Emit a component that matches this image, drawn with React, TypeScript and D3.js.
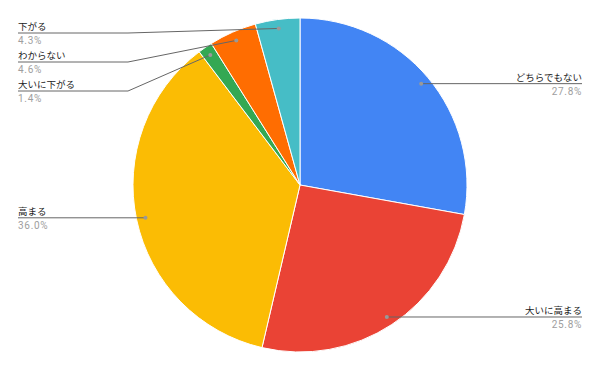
import React from "react";
import * as d3 from "d3";

const categories = ["どちらでもない", "大いに高まる", "高まる", "大いに下がる", "わからない", "下がる"];
const values = [27.8, 25.8, 36.0, 1.4, 4.6, 4.3];
const colors = ["#4285F4", "#EA4335", "#FBBC04", "#34A853", "#FF6D01", "#46BDC6"];

const W = 600;
const H = 371;
const CX = 300;
const CY = 185;
const R = 167;
const FONT = "Roboto, 'Noto Sans CJK JP', sans-serif";

export default function App() {
  const pie = d3.pie<number>().sort(null).value((d) => d)(values);
  const arc = d3.arc<d3.PieArcDatum<number>>().innerRadius(0).outerRadius(R);
  const dotArc = d3.arc<d3.PieArcDatum<number>>().innerRadius(R * 0.946).outerRadius(R * 0.946);

  const items = pie.map((p, i) => {
    const mid = (p.startAngle + p.endAngle) / 2;
    const [dx, dy] = dotArc.centroid(p);
    return { i, mid, x: CX + dx, y: CY + dy, left: Math.sin(mid) < 0 };
  });

  const lineY: Record<number, number> = {};
  (["left", "right"] as const).forEach((side) => {
    const list = items.filter((d) => (side === "left" ? d.left : !d.left)).sort((a, b) => a.y - b.y);
    let prev = -Infinity;
    list.forEach((d) => {
      const y = Math.max(d.y, prev + 29, 33);
      lineY[d.i] = y;
      prev = y;
    });
  });

  return (
    <svg width={W} height={H} style={{ position: "absolute", left: 0, top: 0, fontFamily: FONT }}>
      <rect width={W} height={H} fill="#fff" />
      <g transform={`translate(${CX},${CY})`}>
        {pie.map((p, i) => (
          <path key={i} d={arc(p) || ""} fill={colors[i]} stroke="#fff" strokeWidth={1} />
        ))}
      </g>
      {items.map((d) => {
        const ly = lineY[d.i];
        const endX = d.left ? 18 : 582;
        const elbowX = d.left ? 128 : 472;
        const pts =
          Math.abs(ly - d.y) < 0.5
            ? `${d.x},${d.y} ${endX},${ly}`
            : `${d.x},${d.y} ${elbowX},${ly} ${endX},${ly}`;
        const anchor = d.left ? "start" : "end";
        return (
          <g key={d.i}>
            <polyline points={pts} fill="none" stroke="#666" strokeWidth={1} />
            <circle cx={d.x} cy={d.y} r={2} fill="#999" />
            <text x={endX} y={ly - 3} fontSize={9.5} fill="#222" textAnchor={anchor}>
              {categories[d.i]}
            </text>
            <text x={endX} y={ly + 11} fontSize={10} fill="#9e9e9e" textAnchor={anchor} letterSpacing={0.7}>
              {values[d.i].toFixed(1)}%
            </text>
          </g>
        );
      })}
    </svg>
  );
}
